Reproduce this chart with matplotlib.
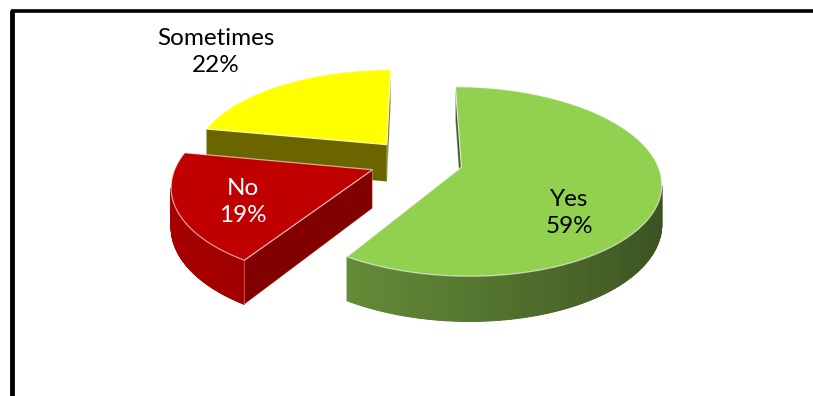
import numpy as np
import matplotlib
matplotlib.use("Agg")
import matplotlib.pyplot as plt
from matplotlib.patches import Polygon

# pie data
labels = ["Yes", "No", "Sometimes"]
shares = [59, 19, 22]
top_colors = ["#92D050", "#C00000", "#FFFF00"]
wall_light = ["#729E40", "#A80000", "#7A7400"]
wall_dark = ["#3A5121", "#880000", "#5E5900"]
radial_colors = ["#3F5A25", "#820000", "#6B6500"]
label_colors = ["black", "white", "black"]
# label anchors in pixels (Excel best-fit placement)
label_pos = [(569, 213), (243, 202), (216, 52)]

# projection settings (pixels)
cx, cy = 416, 161
A, B, H = 195, 90.7, 38
k = 0.15
explode = 0.24


def project(X, Y, Z):
    s = 1.0 / (1 + k * Y)
    return cx + A * X * s, cy - (B * Y + H * Z) * s


def area(pts):
    x = np.array([p[0] for p in pts])
    y = np.array([p[1] for p in pts])
    return 0.5 * np.sum(x * np.roll(y, -1) - np.roll(x, -1) * y)


def mix(c0, c1, t):
    c0 = np.array(matplotlib.colors.to_rgb(c0))
    c1 = np.array(matplotlib.colors.to_rgb(c1))
    return tuple(c0 + (c1 - c0) * t)


fig = plt.figure(figsize=(8.13, 3.96), dpi=100)
ax = fig.add_axes([0, 0, 1, 1])
ax.set_xlim(0, 813)
ax.set_ylim(396, 0)
ax.axis("off")

# frame (top and left edge of chart border)
ax.plot([11, 813], [10.5, 10.5], color="black", lw=2.6, solid_capstyle="butt")
ax.plot([11.5, 11.5], [9.5, 396], color="black", lw=3.5, solid_capstyle="butt")

# angles: start at 12 o'clock, clockwise
ends = 90 - np.cumsum(shares) / 100 * 360
starts = np.concatenate([[90], ends[:-1]])

for i in [2, 1, 0]:
    a1, a0 = np.radians(starts[i]), np.radians(ends[i])  # a0 < a1 (ccw)
    mid = (a0 + a1) / 2
    ox, oy = explode * np.cos(mid), explode * np.sin(mid)
    th = np.linspace(a0, a1, 150)

    def rim(t, z):
        return project(ox + np.cos(t), oy + np.sin(t), z)

    c_top = project(ox, oy, 0)
    c_bot = project(ox, oy, -1)

    # outer wall: find visible segments
    segs = []
    for j in range(len(th) - 1):
        q = [rim(th[j], 0), rim(th[j + 1], 0), rim(th[j + 1], -1), rim(th[j], -1)]
        if area(q) > 0:
            t = (np.cos((th[j] + th[j + 1]) / 2) + 1) / 2
            segs.append((j, q, mix(wall_light[i], wall_dark[i], t)))
    if segs:
        js = [s[0] for s in segs]
        tt = th[js[0]:js[-1] + 2]
        base = [rim(t, 0) for t in tt] + [rim(t, -1) for t in tt[::-1]]
        ax.add_patch(Polygon(base, closed=True, facecolor=segs[len(segs) // 2][2],
                             edgecolor="none"))
        for j, q, col in segs:
            ax.add_patch(Polygon(q, closed=True, facecolor=col, edgecolor=col,
                                 lw=0.7, joinstyle="miter"))

    # radial faces
    qa = [c_top, rim(a0, 0), rim(a0, -1), c_bot]
    qb = [rim(a1, 0), c_top, c_bot, rim(a1, -1)]
    for q in (qa, qb):
        if area(q) > 0:
            ax.add_patch(Polygon(q, closed=True, facecolor=radial_colors[i],
                                 edgecolor=(1, 1, 1, 0.35), lw=0.7))

    top = [c_top] + [rim(t, 0) for t in th]
    ax.add_patch(Polygon(top, closed=True, facecolor=top_colors[i],
                         edgecolor=(1, 1, 1, 0.6), lw=0.9))

for i in range(len(labels)):
    x, y = label_pos[i]
    ax.text(x, y, f"{labels[i]}\n{shares[i]}%", ha="center", va="center",
            fontsize=17.5, family="Lato", color=label_colors[i], linespacing=1.38)

fig.savefig("out.png", dpi=100)
